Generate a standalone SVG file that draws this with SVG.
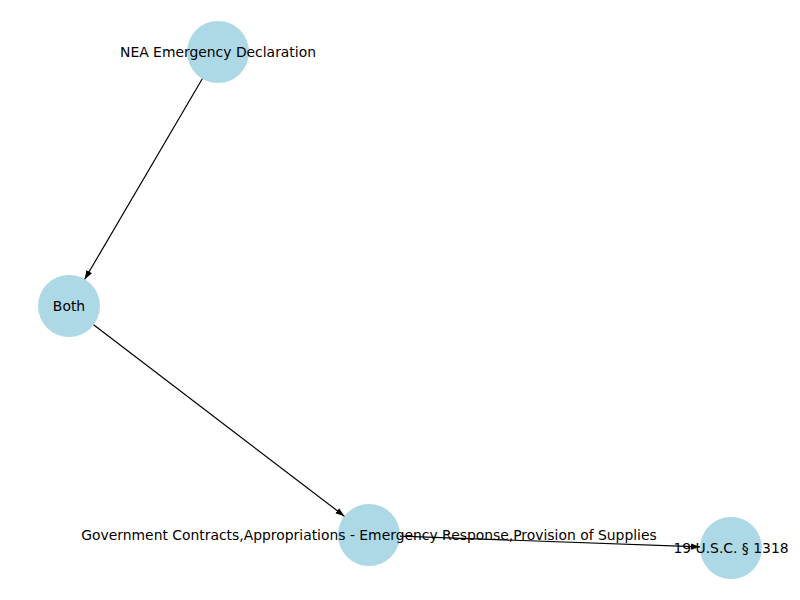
<svg xmlns="http://www.w3.org/2000/svg" width="800" height="600" viewBox="0 0 800 600">
<style>
.node{fill:#ADD8E6;}
.lbl{font-family:"DejaVu Sans",sans-serif;font-size:13.9px;fill:#000;text-anchor:middle;}
.edge{stroke:#000;stroke-width:1.2;fill:none;marker-end:url(#ah);}
</style>
<defs>
<marker id="ah" markerUnits="userSpaceOnUse" markerWidth="10" markerHeight="8" refX="9" refY="4" orient="auto">
<path d="M0,0.8 L9,4 L0,7.2 Z" fill="#000"/>
</marker>
</defs>
<rect width="800" height="600" fill="#fff"/>
<g id="n1"><circle class="node" cx="218" cy="52" r="31"/></g>
<g id="n2"><circle class="node" cx="69" cy="306" r="31"/></g>
<g id="n3"><circle class="node" cx="369" cy="535" r="31"/></g>
<g id="n4"><circle class="node" cx="731" cy="548" r="31"/></g>
<g id="edges">
<line class="edge" x1="202.3" y1="78.7" x2="84.7" y2="279.3"/>
<line class="edge" x1="93.6" y1="324.8" x2="344.4" y2="516.2"/>
<line class="edge" x1="400" y1="536.1" x2="700" y2="546.9"/>
</g>
<g id="labels">
<text class="lbl" x="218" y="56.5">NEA Emergency Declaration</text>
<text class="lbl" x="69" y="310.5">Both</text>
<text class="lbl" x="369" y="539.5">Government Contracts,Appropriations - Emergency Response,Provision of Supplies</text>
<text class="lbl" x="731" y="552.5">19 U.S.C. § 1318</text>
</g>
</svg>
